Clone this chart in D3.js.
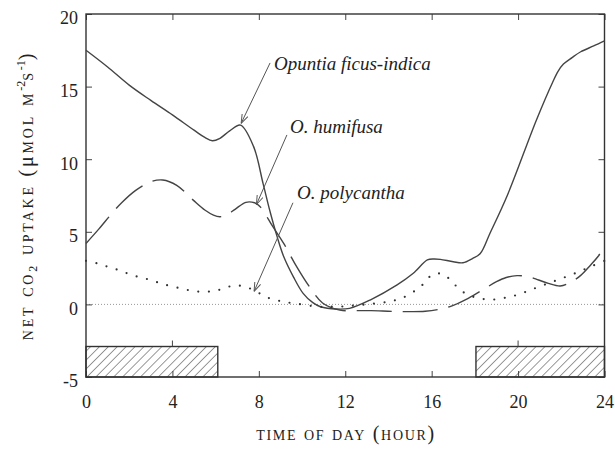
<!DOCTYPE html>
<html>
<head>
<meta charset="utf-8">
<script src="https://cdn.jsdelivr.net/npm/d3@7"></script>
<style>
  body { margin: 0; background: #fff; }
</style>
</head>
<body>
<div id="chart"></div>
<script>
// axis ticks
var hourTicks = [0, 4, 8, 12, 16, 20, 24];
var uptakeTicks = [-5, 0, 5, 10, 15, 20];

// Opuntia ficus-indica (solid)
var ficusHours = [0, 1, 2, 3, 4, 5, 5.5, 5.85, 6.2, 6.65, 7.15, 7.75, 8.2, 8.5, 8.85, 9.15, 9.6, 10.05, 10.5, 10.85, 11.6, 12.2, 13.15, 14.4, 15.15, 15.8, 16.1, 16.4, 17.0, 17.45, 17.9, 18.25, 18.7, 19.5, 20.85, 21.6, 21.85, 22.1, 22.5, 22.9, 23.5, 24];
var ficusValues = [17.5, 16.35, 15.1, 14.05, 13.05, 12.0, 11.5, 11.27, 11.44, 11.95, 12.35, 10.9, 8.3, 6.5, 4.65, 3.3, 1.9, 0.76, 0.12, -0.16, -0.32, -0.27, 0.3, 1.34, 2.14, 3.06, 3.13, 3.1, 2.94, 2.87, 3.17, 3.5, 4.9, 7.5, 12.7, 15.3, 16.05, 16.55, 17.0, 17.4, 17.8, 18.15];

// O. humifusa (dashed)
var humifusaHours = [0, 0.6, 1.2, 1.65, 2.3, 3.0, 3.55, 4.2, 4.95, 5.5, 5.9, 6.2, 6.55, 6.9, 7.4, 7.8, 8.05, 8.65, 9.15, 9.75, 10.35, 10.95, 11.75, 12.5, 13.2, 14.2, 15.15, 15.7, 16.3, 16.85, 17.6, 18.3, 19.0, 19.45, 19.95, 20.5, 20.95, 21.4, 21.95, 22.4, 22.9, 23.35, 23.7, 24];
var humifusaValues = [4.2, 5.2, 6.27, 7.0, 7.85, 8.45, 8.57, 8.2, 7.2, 6.5, 6.15, 6.04, 6.2, 6.55, 7.03, 7.0, 6.75, 5.35, 4.2, 2.6, 1.2, 0.1, -0.39, -0.43, -0.43, -0.48, -0.5, -0.47, -0.35, -0.15, 0.35, 0.95, 1.56, 1.85, 1.98, 1.9, 1.68, 1.45, 1.27, 1.5, 2.0, 2.7, 3.3, 3.97];

// O. polycantha (dotted)
var polycanthaHours = [0, 0.5, 1.0, 1.5, 2.0, 2.5, 3.0, 3.45, 3.9, 4.45, 4.9, 5.4, 5.9, 6.35, 6.85, 7.35, 7.85, 8.3, 8.8, 9.3, 9.85, 10.75, 11.3, 11.8, 12.2, 12.7, 13.15, 13.7, 14.15, 14.6, 15.1, 15.6, 16.05, 16.55, 17.0, 17.5, 18.0, 18.5, 19.0, 19.5, 19.95, 20.45, 20.9, 21.4, 21.9, 22.4, 22.9, 23.35, 23.85, 24];
var polycanthaValues = [3.0, 2.83, 2.6, 2.37, 2.09, 1.86, 1.68, 1.45, 1.27, 1.08, 0.94, 0.87, 0.92, 1.08, 1.31, 1.22, 0.92, 0.53, 0.3, 0.14, 0.03, -0.16, -0.16, -0.15, -0.1, -0.04, 0.03, 0.12, 0.23, 0.42, 0.81, 1.38, 2.07, 2.07, 1.45, 0.81, 0.49, 0.35, 0.35, 0.49, 0.65, 0.92, 1.18, 1.45, 1.73, 2.0, 2.3, 2.6, 2.9, 3.0];

// night periods (hatched bars at the bottom)
var nightStarts = [0, 18.05];
var nightEnds = [6.1, 24];
var nightBarTop = -2.9;

// species labels: text anchor, arrow start, arrow tip (hour, uptake)
var labelNames = ["Opuntia ficus-indica", "O. humifusa", "O. polycantha"];
var labelAt = [[8.7, 16.14], [9.44, 11.81], [9.77, 7.26]];
var arrowFrom = [[8.52, 16.63], [9.3, 11.67], [9.58, 7.0]];
var arrowTo = [[7.18, 12.47], [7.89, 6.88], [7.78, 0.9]];

var serif = '"Liberation Serif"';
var width = 615, height = 452;
var margin = {top: 14, right: 10.5, bottom: 75, left: 86};

var svg = d3.select("#chart").append("svg")
  .attr("width", width)
  .attr("height", height);

var x = d3.scaleLinear().domain([0, 24]).range([margin.left, width - margin.right]);
var y = d3.scaleLinear().domain([-5, 20]).range([height - margin.bottom, margin.top]);

var defs = svg.append("defs");
defs.append("pattern")
  .attr("id", "hatch")
  .attr("patternUnits", "userSpaceOnUse")
  .attr("width", 6.3).attr("height", 6.3)
  .attr("patternTransform", "rotate(45)")
  .append("line")
  .attr("x1", 0).attr("y1", 0).attr("x2", 0).attr("y2", 6.3)
  .attr("stroke", "#333").attr("stroke-width", 1);

defs.append("marker")
  .attr("id", "arrow")
  .attr("viewBox", "0 0 10 10")
  .attr("refX", 10).attr("refY", 5)
  .attr("markerUnits", "userSpaceOnUse")
  .attr("markerWidth", 9).attr("markerHeight", 9)
  .attr("orient", "auto")
  .append("path")
  .attr("d", "M0,1.5L10,5L0,8.5")
  .attr("fill", "none")
  .attr("stroke", "#555")
  .attr("stroke-width", 1.1);

//zero line
svg.append("line")
  .attr("x1", x(0)).attr("x2", x(24))
  .attr("y1", y(0)).attr("y2", y(0))
  .attr("stroke", "#999").attr("stroke-width", 1)
  .attr("stroke-dasharray", "1,2");

// axes with inward ticks
var plain = function(d) { return String(d); };
svg.append("g")
  .attr("transform", "translate(0," + y(-5) + ")")
  .call(d3.axisBottom(x).tickValues(hourTicks).tickSize(-6).tickPadding(18).tickFormat(plain));
var leftAxis = svg.append("g")
  .attr("transform", "translate(" + x(0) + ",0)")
  .call(d3.axisLeft(y).tickValues(uptakeTicks).tickSize(-6).tickPadding(8).tickFormat(plain));
svg.append("g")
  .attr("transform", "translate(0," + y(20) + ")")
  .call(d3.axisTop(x).tickValues(hourTicks).tickSize(-6).tickFormat(""));
svg.append("g")
  .attr("transform", "translate(" + x(24) + ",0)")
  .call(d3.axisRight(y).tickValues(uptakeTicks).tickSize(-6).tickFormat(""));

svg.selectAll(".domain").remove();
svg.selectAll(".tick line").attr("stroke", "#444").attr("stroke-width", 1);
svg.selectAll(".tick text")
  .style("font-family", serif)
  .style("font-size", "18px")
  .attr("fill", "#222");
leftAxis.selectAll(".tick text").attr("dy", "0.55em");

// night bars
var bars = nightStarts.map(function(s, i) { return [s, nightEnds[i]]; });
svg.selectAll(".night")
  .data(bars)
  .enter().append("rect")
  .attr("class", "night")
  .attr("x", function(d) { return x(d[0]); })
  .attr("y", y(nightBarTop))
  .attr("width", function(d) { return x(d[1]) - x(d[0]); })
  .attr("height", y(-5) - y(nightBarTop))
  .attr("fill", "url(#hatch)")
  .attr("stroke", "#333")
  .attr("stroke-width", 1.4);

// ticks that sit on top of the bars
var coveredTicks = hourTicks.filter(function(t) {
  return bars.some(function(b) { return t > b[0] && t < b[1]; });
});
svg.selectAll(".bartick")
  .data(coveredTicks)
  .enter().append("line")
  .attr("x1", function(d) { return x(d); }).attr("x2", function(d) { return x(d); })
  .attr("y1", y(nightBarTop)).attr("y2", y(nightBarTop) - 6)
  .attr("stroke", "#444");

// frame
svg.append("rect")
  .attr("x", x(0)).attr("y", y(20))
  .attr("width", x(24) - x(0)).attr("height", y(-5) - y(20))
  .attr("fill", "none")
  .attr("stroke", "#333")
  .attr("stroke-width", 1.4);

// curves
var line = d3.line()
  .x(function(d) { return x(d[0]); })
  .y(function(d) { return y(d[1]); })
  .curve(d3.curveCatmullRom.alpha(0.5));

function pairs(h, v) { return h.map(function(t, i) { return [t, v[i]]; }); }

svg.append("path")
  .datum(pairs(ficusHours, ficusValues))
  .attr("d", line)
  .attr("fill", "none").attr("stroke", "#444").attr("stroke-width", 1.4);

svg.append("path")
  .datum(pairs(humifusaHours, humifusaValues))
  .attr("d", line)
  .attr("fill", "none").attr("stroke", "#444").attr("stroke-width", 1.4)
  .attr("stroke-dasharray", "35,11");

svg.append("path")
  .datum(pairs(polycanthaHours, polycanthaValues))
  .attr("d", line)
  .attr("fill", "none").attr("stroke", "#333").attr("stroke-width", 2.2)
  .attr("stroke-linecap", "round")
  .attr("stroke-dasharray", "0,10.6");

// labels and arrows
labelNames.forEach(function(name, i) {
  svg.append("line")
    .attr("x1", x(arrowFrom[i][0])).attr("y1", y(arrowFrom[i][1]))
    .attr("x2", x(arrowTo[i][0])).attr("y2", y(arrowTo[i][1]))
    .attr("stroke", "#555").attr("stroke-width", 1)
    .attr("marker-end", "url(#arrow)");
  svg.append("text")
    .attr("x", x(labelAt[i][0])).attr("y", y(labelAt[i][1]))
    .style("font-family", serif)
    .style("font-size", "19px")
    .style("font-style", "italic")
    .attr("fill", "#222")
    .text(name);
});

// axis titles
svg.append("text")
  .attr("x", (x(0) + x(24)) / 2)
  .attr("y", 440)
  .attr("text-anchor", "middle")
  .style("font-family", serif)
  .style("font-size", "20px")
  .style("font-variant", "small-caps")
  .attr("textLength", 178)
  .attr("lengthAdjust", "spacing")
  .attr("fill", "#222")
  .text("time of day (hour)");

var ylab = svg.append("text")
  .attr("transform", "translate(33," + (y(-5) + y(20)) / 2 + ") rotate(-90)")
  .attr("text-anchor", "middle")
  .style("font-family", serif)
  .style("font-size", "20px")
  .style("font-variant", "small-caps")
  .style("letter-spacing", "2.8px")
  .attr("fill", "#222");
ylab.append("tspan").text("net co");
ylab.append("tspan").attr("dy", 4).style("font-size", "12px").style("font-variant", "normal").text("2");
ylab.append("tspan").attr("dy", -4).text(" uptake (");
ylab.append("tspan").style("font-variant", "normal").text("\u03bc");
ylab.append("tspan").text("mol m");
ylab.append("tspan").attr("dy", -8).style("font-size", "12px").style("font-variant", "normal").style("letter-spacing", "0px").text("-2");
ylab.append("tspan").attr("dy", 8).text("s");
ylab.append("tspan").attr("dy", -8).style("font-size", "12px").style("font-variant", "normal").style("letter-spacing", "0px").text("-1");
ylab.append("tspan").attr("dy", 8).text(")");
</script>
</body>
</html>
